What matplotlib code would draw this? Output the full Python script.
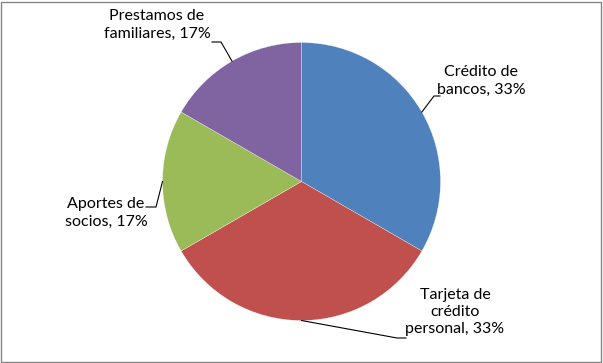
import numpy as np
import matplotlib.pyplot as plt
from matplotlib.patches import Rectangle

# Datos
categorias = ['Crédito de\nbancos', 'Tarjeta de\ncrédito\npersonal', 'Aportes de\nsocios', 'Prestamos de\nfamiliares']
valores = [2, 2, 1, 1]
colores = ['#4F81BD', '#C0504D', '#9BBB59', '#8064A2']

# Posiciones de las etiquetas y de las lineas guia (pixeles, origen abajo)
pos_etiquetas = [(481, 282), (455, 51), (106, 150), (157, 338)]
codo = [(434, 267), (397, 25), (156, 156), (221, 321)]
fin = [(440, 267), (406, 25), (146, 156), (212, 321)]

plt.rcParams['font.family'] = ['Lato', 'DejaVu Sans']

fig = plt.figure(figsize=(6.03, 3.63), dpi=100)
ax = fig.add_axes([0, 0, 1, 1])

centro = (301.5, 181.5)
radio = 139
wedges, _ = ax.pie(valores, colors=colores, startangle=90, counterclock=False,
                   center=centro, radius=radio, frame=True,
                   wedgeprops=dict(edgecolor='white', linewidth=0.2))
ax.set_xlim(0, 603)
ax.set_ylim(0, 363)
ax.set_aspect('equal')
ax.axis('off')

total = sum(valores)
for w, cat, v, pos, cd, fn in zip(wedges, categorias, valores, pos_etiquetas, codo, fin):
    ang = np.deg2rad((w.theta1 + w.theta2) / 2)
    x0 = centro[0] + radio * np.cos(ang)
    y0 = centro[1] + radio * np.sin(ang)
    pct = round(100 * v / total)
    partes = cat.split('\n')
    texto = '\n'.join(partes[:-1] + [f'{partes[-1]}, {pct}%'])
    ax.text(pos[0], pos[1], texto, ha='center', va='center', fontsize=11.5,
            linespacing=1.3, color='black')
    # linea guia desde el borde del sector
    ax.plot([x0, cd[0], fn[0]], [y0, cd[1], fn[1]], color='black', lw=0.8)

fig.patches.append(Rectangle((1, 1), 600, 360, transform=None, fill=False,
                             edgecolor='#868686', lw=1))

fig.savefig('out.png', dpi=100)
